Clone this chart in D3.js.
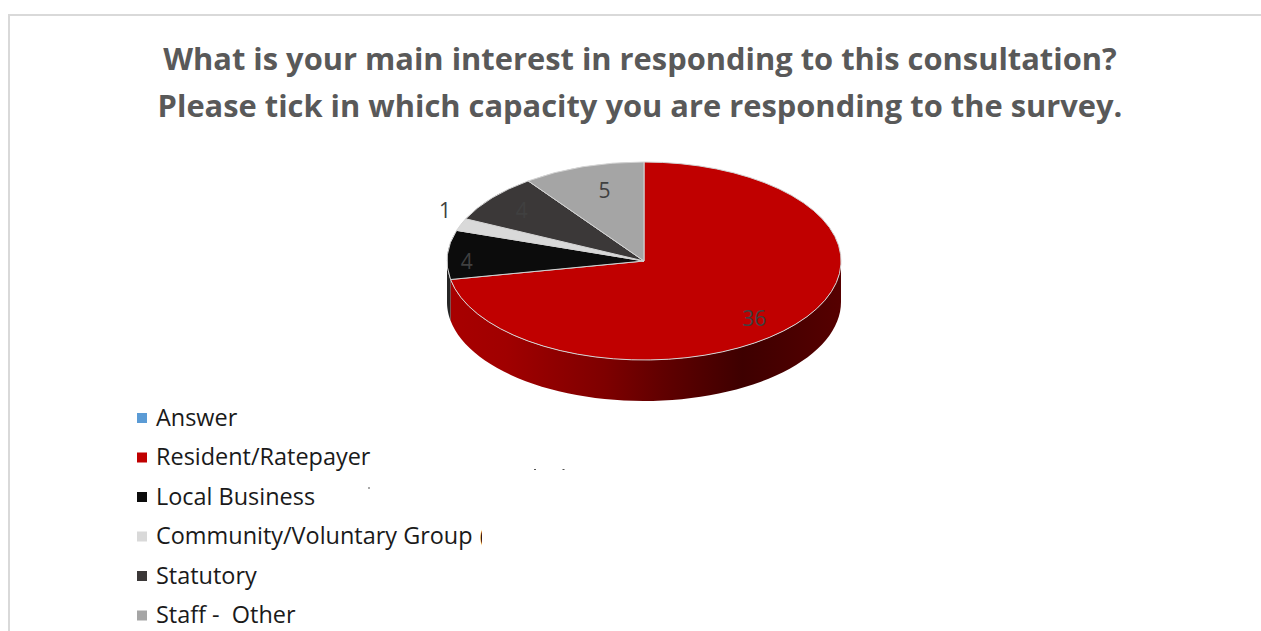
<!DOCTYPE html>
<html><head><meta charset="utf-8">
<script src="https://cdn.jsdelivr.net/npm/d3@7"></script>
<style>html,body{margin:0;padding:0;background:#fff;overflow:hidden}svg{display:block}text{font-family:"Open Sans",sans-serif;white-space:pre}</style>
</head><body>
<svg id="c" width="1261" height="631"></svg>
<script>
const titleLines = ["What is your main interest in responding to this consultation?","Please tick in which capacity you are responding to the survey."];
const categories = ["Answer","Resident/Ratepayer","Local Business","Community/Voluntary Group (","Statutory","Staff -  Other"];
const values = [0,36,4,1,4,5];
const colors = ["#5b9bd5","#c00000","#0c0c0c","#d9d9d9","#3b3838","#a5a5a5"];
const wallColors = [null,null,"#262626",null,null,null];
const labelOffsets = [null,[0.56,0.58],[-0.9,0.0],[-1.01,-0.51],[-0.62,-0.51],[-0.2,-0.71]];
const speckles = [[534,469],[562.5,469],[368,487.5]];

const W=1261,H=631,cx=644,cy=261,rx=197,ry=99,depth=41;
const svg=d3.select("#c");
const defs=svg.append("defs");
const grad=defs.append("linearGradient").attr("id","wall").attr("gradientUnits","userSpaceOnUse")
  .attr("x1",cx-rx).attr("x2",cx+rx).attr("y1",0).attr("y2",0);
[[0,"#a80000"],[0.15,"#a00000"],[0.4,"#7e0000"],[0.55,"#600000"],[0.75,"#3e0000"],[1,"#560000"]].forEach(s=>grad.append("stop").attr("offset",s[0]).attr("stop-color",s[1]));
defs.append("clipPath").attr("id","legclip").append("rect").attr("x",0).attr("y",400).attr("width",482).attr("height",231);

// chart frame
svg.append("path").attr("d",d3.line()([[W,15],[9,15],[9,H]])).attr("fill","none").attr("stroke","#d9d9d9").attr("stroke-width",2);

// title
svg.selectAll(".t").data(titleLines).join("text").attr("class","t")
  .attr("x",640).attr("y",(d,i)=>70+i*47).attr("text-anchor","middle")
  .attr("font-size",30.85).attr("font-weight",700).attr("fill","#595959").text(d=>d);

// pie
const pie=d3.pie().sort(null).value(d=>d).startAngle(0).endAngle(2*Math.PI);
const arcs=pie(values);
const ex=a=>cx+rx*Math.sin(a), ey=a=>cy-ry*Math.cos(a);
// walls: only the front half of the ellipse (angles PI/2 to 3PI/2)
const wall=(a0,a1)=>{
  const s=Math.max(a0,Math.PI/2), e=Math.min(a1,1.5*Math.PI);
  if(e<=s) return null;
  const top=d3.range(0,61).map(i=>s+(e-s)*i/60);
  const pts=top.map(a=>[ex(a),ey(a)]).concat(top.slice().reverse().map(a=>[ex(a),ey(a)+depth]));
  return d3.line()(pts)+"Z";
};
svg.append("g").selectAll("path").data(arcs.filter(d=>wall(d.startAngle,d.endAngle))).join("path")
  .attr("d",d=>wall(d.startAngle,d.endAngle))
  .attr("fill",d=>wallColors[d.index]||"url(#wall)");
const arc=d3.arc().innerRadius(0).outerRadius(1);
svg.append("g").attr("transform",`translate(${cx},${cy}) scale(${rx},${ry})`)
  .selectAll("path").data(arcs.filter(d=>d.value>0)).join("path")
  .attr("d",arc).attr("fill",d=>colors[d.index])
  .attr("stroke","#d4d4d4").attr("stroke-width",1).attr("vector-effect","non-scaling-stroke");

// data labels
svg.append("g").selectAll("text").data(arcs.filter(d=>d.value>0)).join("text")
  .attr("x",d=>cx+labelOffsets[d.index][0]*rx).attr("y",d=>cy+labelOffsets[d.index][1]*ry)
  .attr("dy","0.36em").attr("text-anchor","middle").attr("font-size",21)
  .attr("fill","#404040").text(d=>d.value);

// legend
const ly=d3.scaleLinear().domain([0,5]).range([418,615.5]);
const leg=svg.append("g").attr("clip-path","url(#legclip)");
const row=leg.selectAll("g").data(categories).join("g").attr("transform",(d,i)=>`translate(0,${ly(i)})`);
row.append("rect").attr("x",137).attr("y",-5).attr("width",10).attr("height",10).attr("fill",(d,i)=>colors[i]);
row.append("text").attr("x",156).attr("dy","0.34em").attr("font-size",23.45).attr("fill","#1a1a1a").text(d=>d)
  .filter(d=>d.endsWith("(")).attr("word-spacing",0).each(function(d){
    // the cut-off bracket sits further right than a plain space would put it
    const t=d3.select(this), head=d.slice(0,-1);
    t.text(head); t.append("tspan").attr("dx",1).text("(");
  });

// tiny leftover marks beside the legend
svg.append("g").selectAll("rect").data(speckles).join("rect")
  .attr("x",d=>d[0]).attr("y",d=>d[1]).attr("width",2).attr("height",1).attr("fill","#555");
</script>
</body></html>
